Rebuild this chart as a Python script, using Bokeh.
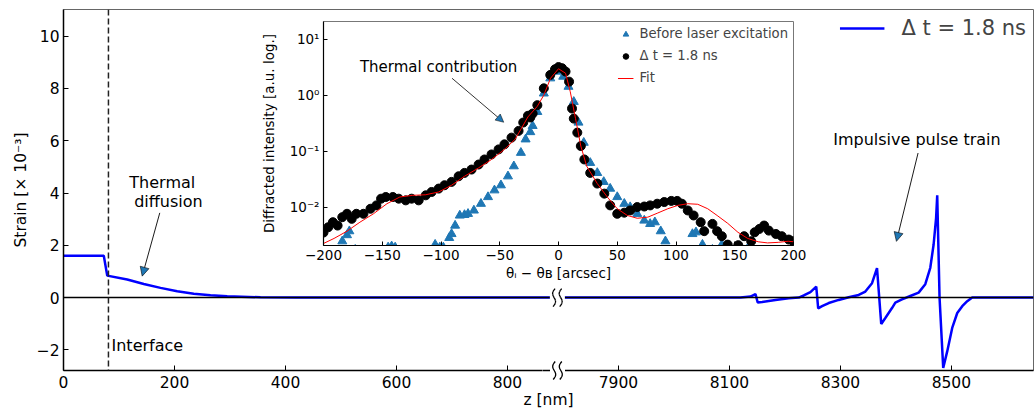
import numpy as np
from bokeh.plotting import figure
from bokeh.models import (Range1d, FixedTicker, CustomJSTickFormatter, Span, Arrow,
                          NormalHead, Label, GridBox)
from bokeh.embed import file_html
from bokeh.resources import INLINE

FONT = "DejaVu Sans"

# ---------------- main panel data (strain profile) ----------------
Z_LEFT = [0, 72.6, 78.8, 114.8, 144.7, 174.8, 204.9, 234.8, 264.9, 295, 355, 420, 890]
STRAIN_LEFT = [1.60, 1.60, 0.84, 0.69, 0.52, 0.37, 0.24, 0.15, 0.09, 0.05, 0.01, 0.0, 0.0]

Z_RIGHT = [7790, 8120, 8138, 8147, 8151, 8159, 8183, 8207, 8225, 8234, 8246, 8256.5,
           8260, 8267, 8279, 8297, 8315, 8333, 8345, 8357, 8366, 8373.6, 8381, 8393,
           8399, 8411, 8426, 8441, 8453, 8462, 8468, 8472.5, 8474.5, 8478.7, 8485.3,
           8492.5, 8501.5, 8510.6, 8519.6, 8528.6, 8537.6, 8648]
STRAIN_RIGHT = [0.0, 0.0, 0.04, 0.13, -0.19, -0.17, -0.09, -0.03, 0.0, 0.08, 0.21, 0.42,
                -0.41, -0.33, -0.21, -0.09, 0.01, 0.10, 0.23, 0.55, 1.13, -1.01, -0.78, -0.40,
                -0.19, -0.07, 0.06, 0.19, 0.51, 1.14, 2.03, 3.05, 3.91, 0.0, -2.69,
                -2.06, -1.16, -0.59, -0.33, -0.14, 0.0, 0.0]

X_TICKS_LEFT = [0, 200, 400, 600, 800]
X_TICKS_RIGHT = [7900, 8100, 8300, 8500]
Y_TICKS = [-2, 0, 2, 4, 6, 8, 10]
Z_BREAK_LEFT = 890
Z_BREAK_RIGHT = 7790
Z_MAX = 8648
Z_INTERFACE = 81
Y_MIN, Y_MAX = -2.79, 11.02
MAIN_LEGEND = "Δ t = 1.8 ns"

# ---------------- inset data (rocking curves, log10 intensity) ----------------
THETA_BLE = [-184, -180, -178, -173, -145, -142, -139, -105, -101, -98, -93, -91, -88, -84,
             -80, -77, -72, -66, -60, -54.5, -49, -43, -38, -32, -28, -24, -22, -18, -12.5,
             -7, -1.5, 4, 8.5, 13, 17, 21.5, 27, 33, 38.5, 44, 50, 56, 61, 67, 73, 78, 82,
             87, 91, 114, 117, 122.5, 131, 139, 162, 199]
LOG_BLE = [-2.61, -2.50, -2.43, -2.76, -2.72, -2.70, -2.72, -2.67, -2.72, -2.72, -2.55, -2.48,
           -2.33, -2.15, -2.14, -2.12, -2.06, -1.94, -1.82, -1.70, -1.61, -1.45, -1.27, -1.03,
           -0.79, -0.66, -0.55, -0.30, 0.03, 0.30, 0.42, 0.33, 0.15, -0.12, -0.49, -0.85,
           -1.21, -1.39, -1.55, -1.67, -1.82, -1.94, -2.00, -2.12, -2.24, -2.30, -2.27,
           -2.43, -2.61, -2.48, -2.45, -2.67, -2.76, -2.67, -2.70, -2.70]

THETA_DT = [-200, -196, -192, -188, -184, -180, -176, -172, -166, -160, -155, -151, -147,
            -141, -136, -130, -125, -119, -113, -108, -102, -97, -91, -85, -80, -74, -68,
            -63, -57, -51, -46, -40, -34, -30, -26, -24, -22, -18, -12.5, -7, -3, 0, 3, 6,
            9, 11.5, 13, 16, 19, 22, 27, 33, 39, 44, 50, 56, 61, 67, 73, 78, 84, 90, 96,
            101, 105, 110, 115, 121, 124, 131, 135, 139, 144, 153, 158, 164, 167, 171, 175,
            179, 185, 190, 196, 200]
LOG_DT = [-2.455, -2.36, -2.27, -2.33, -2.18, -2.12, -2.21, -2.12, -2.12, -2.03, -1.97,
          -1.85, -1.82, -1.82, -1.85, -1.88, -1.85, -1.88, -1.79, -1.73, -1.67, -1.61,
          -1.55, -1.45, -1.39, -1.33, -1.24, -1.15, -1.06, -0.97, -0.88, -0.76, -0.64,
          -0.49, -0.37, -0.40, -0.33, -0.18, 0.12, 0.36, 0.46, 0.50, 0.48, 0.42, 0.24,
          -0.24, -0.42, -0.67, -0.91, -1.15, -1.39, -1.58, -1.76, -1.97, -2.12, -2.10,
          -2.06, -2.00, -1.99, -1.97, -1.94, -1.91, -1.89, -1.89, -1.94, -2.06, -2.15,
          -2.27, -2.43, -2.30, -2.43, -2.52, -2.67, -2.68, -2.52, -2.61, -2.45, -2.39,
          -2.33, -2.42, -2.48, -2.52, -2.58, -2.61]

THETA_FIT = [-200, -191, -180, -169, -157.5, -146, -135, -124, -113, -102, -91, -80, -68,
             -57, -46, -37, -32, -26, -18, -12.5, -6.8, 0, 6, 10, 14.5, 19, 24, 33, 41.5,
             50, 58.6, 67, 76, 84, 93, 101.5, 110, 118.5, 127, 135, 144, 152.7, 161, 170,
             178, 187, 195.6, 200]
LOG_FIT = [-2.65, -2.56, -2.43, -2.27, -2.12, -1.94, -1.82, -1.79, -1.78, -1.73, -1.61,
           -1.45, -1.30, -1.15, -0.97, -0.79, -0.61, -0.39, -0.20, 0.0, 0.30, 0.47, 0.39,
           0.06, -0.42, -0.91, -1.27, -1.58, -1.82, -2.03, -2.15, -2.20, -2.18, -2.11,
           -2.03, -1.97, -1.94, -1.95, -2.03, -2.15, -2.29, -2.45, -2.56, -2.62, -2.64,
           -2.63, -2.61, -2.62]

INSET_X_TICKS = [-200, -150, -100, -50, 0, 50, 100, 150, 200]
INSET_Y_TICKS = [0.01, 0.1, 1, 10]
INSET_X_RANGE = (-200, 200)
INSET_Y_RANGE = (0.00206, 20.6)

# ---------------- layout constants ----------------
W, H = 1035, 411
BORDER_L, BORDER_R, BORDER_T = 63, 2, 9
FRAME_W = W - BORDER_L - BORDER_R
FRAME_H = 361.0            # approx. frame height after the bottom axis panel
FRAME_BOTTOM_PX = BORDER_T + FRAME_H

# ---------------- broken-axis mapping ----------------
SHIFT = Z_BREAK_RIGHT - Z_BREAK_LEFT


def to_disp(z):
    z = np.asarray(z, dtype=float)
    return np.where(z <= Z_BREAK_LEFT, z, z - SHIFT)


BREAK_D = float(to_disp(Z_BREAK_LEFT))
D_MAX = float(to_disp(Z_MAX))
PX_X = D_MAX / FRAME_W                 # data units per pixel (x)
PX_Y = (Y_MAX - Y_MIN) / FRAME_H       # data units per pixel (y)
BREAK_PX = BORDER_L + BREAK_D / PX_X   # pixel position of the break

# break-mark shape, in pixels
T = np.linspace(-1, 1, 13)
MARK_OFFSETS = (-3.3, 3.3)
MARK_AMP, MARK_SLANT, MARK_HALF_H, GAP_HALF = 2.0, 1.0, 9.0, 7.5

# ---------------- main figure ----------------
p = figure(width=W, height=H, x_range=Range1d(0, D_MAX),
           y_range=Range1d(Y_MIN, Y_MAX), output_backend="svg", toolbar_location=None,
           min_border_left=BORDER_L, min_border_right=BORDER_R, min_border_top=BORDER_T,
           min_border_bottom=0, sizing_mode="fixed", frame_align=False)
p.xgrid.visible = False
p.ygrid.visible = False
p.outline_line_color = "#666666"
p.outline_line_width = 1

xs = np.concatenate([to_disp(Z_LEFT), to_disp(Z_RIGHT)])
ys = np.concatenate([STRAIN_LEFT, STRAIN_RIGHT])
p.line(xs, ys, line_color="#0000ff", line_width=2.5, legend_label=MAIN_LEGEND)

p.add_layout(Span(location=0, dimension="width", line_color="black", line_width=1.5))
p.add_layout(Span(location=float(to_disp(Z_INTERFACE)), dimension="height",
                  line_color="#222222", line_width=1.5, line_dash="6 3"))

# axes
p.xaxis.ticker = FixedTicker(ticks=list(to_disp(X_TICKS_LEFT)) + list(to_disp(X_TICKS_RIGHT)))
p.xaxis.formatter = CustomJSTickFormatter(args=dict(brk=BREAK_D, shift=SHIFT),
                                          code="return String(Math.round(tick <= brk ? tick : tick + shift));")
p.yaxis.ticker = FixedTicker(ticks=Y_TICKS)
p.yaxis.formatter = CustomJSTickFormatter(code="return tick < 0 ? '\u2212' + String(-tick) : String(tick);")
p.xaxis.axis_label = "z [nm]"
p.yaxis.axis_label = "Strain [× 10⁻³]"
for ax in (p.xaxis[0], p.yaxis[0]):
    ax.major_tick_in = 5
    ax.major_tick_out = 0
    ax.minor_tick_in = 0
    ax.minor_tick_out = 0
    ax.axis_line_color = "black"
    ax.axis_line_width = 1.5
    ax.major_tick_line_width = 1
    ax.major_label_text_font = FONT
    ax.major_label_text_font_size = "15.5px"
    ax.major_label_text_color = "black"
    ax.axis_label_text_font = FONT
    ax.axis_label_text_font_size = "15.5px"
    ax.axis_label_text_font_style = "normal"
    ax.axis_label_text_color = "black"
p.xaxis.major_label_standoff = 5
p.xaxis.axis_label_standoff = 0
p.yaxis.major_label_standoff = 4
p.yaxis.axis_label_standoff = 4

# legend
lg = p.legend[0]
lg.location = "top_right"
lg.border_line_alpha = 0
lg.background_fill_alpha = 0
lg.glyph_width = 45
lg.label_standoff = 17
lg.label_text_font = FONT
lg.label_text_font_size = "21px"
lg.padding = 4
lg.margin = 3

# annotations
for txt, zz, yy, align in [("Interface", 86.5, -1.83, "left"),
                           ("Thermal", 178, 4.39, "center"),
                           ("diffusion", 189, 3.68, "center"),
                           ("Impulsive pulse train", 8438, 6.04, "center")]:
    p.add_layout(Label(x=float(to_disp(zz)), y=yy, text=txt, text_align=align,
                       text_baseline="middle", text_font=FONT, text_font_size="16px",
                       text_color="black"))

for (z0, y0, z1, y1) in [(173.5, 3.24, 141.8, 0.82), (8440, 5.53, 8401, 2.15)]:
    p.add_layout(Arrow(x_start=float(to_disp(z0)), y_start=y0, x_end=float(to_disp(z1)), y_end=y1,
                       line_color="black", line_width=0.9,
                       end=NormalHead(size=9, fill_color="#1f77b4", line_color="black",
                                      line_width=0.6)))

# break on the y = 0 line
p.add_layout(Arrow(start=None, end=None, x_start=BREAK_D - GAP_HALF * PX_X,
                   x_end=BREAK_D + GAP_HALF * PX_X, y_start=0, y_end=0,
                   line_color="white", line_width=6))
for off in MARK_OFFSETS:
    bx = BREAK_D + (off + MARK_AMP * np.sin(np.pi * T) - MARK_SLANT * T) * PX_X
    by = -MARK_HALF_H * T * PX_Y
    for i in range(len(T) - 1):
        p.add_layout(Arrow(start=None, end=None, x_start=float(bx[i]), y_start=float(by[i]),
                           x_end=float(bx[i + 1]), y_end=float(by[i + 1]),
                           line_color="black", line_width=1.3))

# ---------------- break on the bottom axis (small overlay) ----------------
BW, BH = 30, 24
b = figure(width=BW, height=BH, x_range=Range1d(-BW / 2, BW / 2), y_range=Range1d(-BH / 2, BH / 2),
           output_backend="svg", toolbar_location=None, x_axis_location=None,
           y_axis_location=None, min_border=0, sizing_mode="fixed", frame_align=False)
b.margin = (int(round(FRAME_BOTTOM_PX - BH / 2)), 0, 0, int(round(BREAK_PX - BW / 2)))
b.outline_line_color = None
b.xgrid.visible = False
b.ygrid.visible = False
b.line([-BW / 2, -GAP_HALF], [0, 0], line_color="black", line_width=1.5)
b.line([GAP_HALF, BW / 2], [0, 0], line_color="black", line_width=1.5)
for off in MARK_OFFSETS:
    b.line(off + MARK_AMP * np.sin(np.pi * T) - MARK_SLANT * T, -MARK_HALF_H * T,
           line_color="black", line_width=1.3)

# ---------------- inset figure ----------------
q = figure(width=553, height=269, x_range=Range1d(*INSET_X_RANGE), y_range=Range1d(*INSET_Y_RANGE),
           y_axis_type="log", output_backend="svg", toolbar_location=None,
           min_border_left=68, min_border_right=15, min_border_top=7, min_border_bottom=0,
           sizing_mode="fixed", frame_align=False)
q.margin = (14, 0, 0, 255)
q.xgrid.visible = False
q.ygrid.visible = False
q.outline_line_color = "#777777"

q.scatter(THETA_BLE, 10 ** np.array(LOG_BLE), marker="triangle", size=9, color="#1f77b4",
          legend_label="Before laser excitation")
q.scatter(THETA_DT, 10 ** np.array(LOG_DT), marker="circle", size=9, color="black",
          legend_label=MAIN_LEGEND)
q.line(THETA_FIT, 10 ** np.array(LOG_FIT), line_color="red", line_width=1, legend_label="Fit")

q.xaxis.ticker = FixedTicker(ticks=INSET_X_TICKS)
q.xaxis.formatter = CustomJSTickFormatter(code="return tick < 0 ? '\u2212' + String(-tick) : String(tick);")
q.yaxis.ticker = FixedTicker(ticks=INSET_Y_TICKS)
q.yaxis.formatter = CustomJSTickFormatter(code="""
const e = Math.round(Math.log10(tick));
const sup = {'-': '\u207b', '0': '\u2070', '1': '\u00b9', '2': '\u00b2', '3': '\u00b3'};
return '10' + String(e).split('').map(c => sup[c]).join('');
""")
q.xaxis.axis_label = "θᵢ − θʙ [arcsec]"
q.yaxis.axis_label = "Diffracted intensity [a.u. log.]"
for ax in (q.xaxis[0], q.yaxis[0]):
    ax.major_tick_in = 4
    ax.major_tick_out = 0
    ax.minor_tick_in = 0
    ax.minor_tick_out = 0
    ax.axis_line_color = "black"
    ax.axis_line_width = 1.2
    ax.major_label_text_font = FONT
    ax.major_label_text_font_size = "13.5px"
    ax.major_label_text_color = "black"
    ax.axis_label_text_font = FONT
    ax.axis_label_text_font_size = "13.5px"
    ax.axis_label_text_font_style = "normal"
    ax.axis_label_text_color = "black"
q.xaxis.major_label_standoff = 4
q.xaxis.axis_label_standoff = 2
q.yaxis.major_label_standoff = 4
q.yaxis.axis_label_standoff = 10

ql = q.legend[0]
ql.location = "top_right"
ql.border_line_alpha = 0
ql.background_fill_alpha = 0
ql.glyph_width = 16
ql.glyph_height = 14
ql.label_height = 14
ql.spacing = 7
ql.padding = 2
ql.margin = 3
ql.label_standoff = 6
ql.label_text_font = FONT
ql.label_text_font_size = "13.2px"

q.add_layout(Label(x=-102, y=10 ** 0.5, text="Thermal contribution", text_align="center",
                   text_baseline="middle", text_font=FONT, text_font_size="15px",
                   text_color="black"))
q.add_layout(Arrow(x_start=-90.6, y_start=10 ** 0.30, x_end=-46.6, y_end=10 ** -0.485,
                   line_color="black", line_width=0.8,
                   end=NormalHead(size=8, fill_color="#1f77b4", line_color="black",
                                  line_width=0.5)))

layout = GridBox(children=[(p, 0, 0), (q, 0, 0), (b, 0, 0)], width=W, height=H,
                 sizing_mode="fixed")

open("out.html", "w").write(file_html(layout, INLINE))
